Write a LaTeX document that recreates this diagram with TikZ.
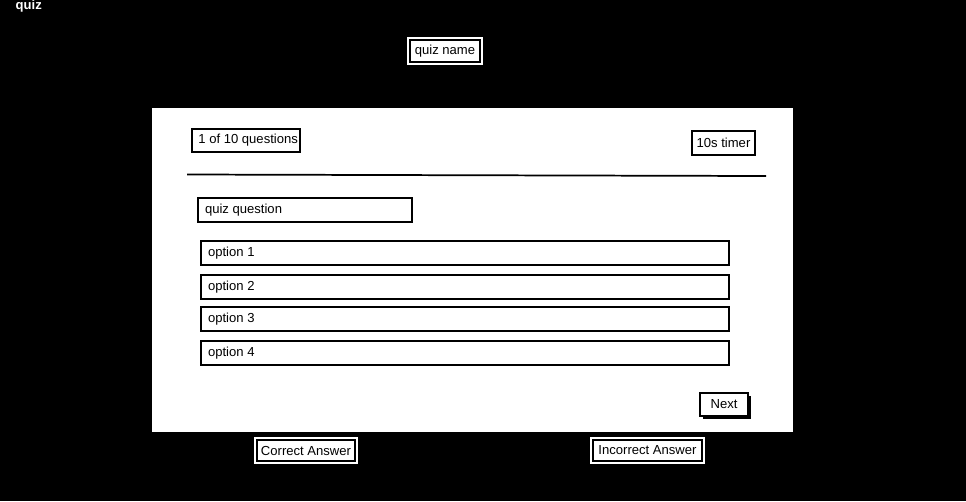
\documentclass[tikz,border=0pt]{standalone}
\usepackage{fontspec}
\setmainfont{Liberation Sans}
\begin{document}
\begin{tikzpicture}[x=0.75pt,y=-0.75pt,
  box/.style={draw=black,fill=white,line width=1.5pt,inner sep=0pt},
  lbl/.style={font=\fontsize{9.8}{11}\selectfont,anchor=west},
  clbl/.style={font=\fontsize{9.8}{11}\selectfont},
  outbox/.style={draw=white,fill=white,line width=0.8pt},
]
\useasboundingbox (0,0) rectangle (966,501);
\fill[black] (0,0) rectangle (966,501);
\node[text=white,font=\bfseries\fontsize{9.8}{11}\selectfont,anchor=west] (title) at (11,6) {quiz};
% quiz name
\draw[outbox] (408,38) rectangle (482,64);
\draw[black,line width=0.8pt] (410,40) rectangle (480,62);
\node[clbl] (qname) at (445,51) {quiz name};
% panel
\fill[white] (152,108) rectangle (793,432);
\node[box,minimum width=108*0.75pt,minimum height=23*0.75pt] (count) at (246,140.5) {};
\node[lbl] at (count.west) [xshift=2pt] {1 of 10 questions};
\node[box,minimum width=63*0.75pt,minimum height=24*0.75pt] (timer) at (723.5,143) {};
\node[clbl] at (timer) {10s timer};
\coordinate (la) at (187,174.5);
\coordinate (lb) at (766,176);
\draw[line width=1.3pt] (la) -- (lb);
\node[box,minimum width=214*0.75pt,minimum height=24*0.75pt] (quest) at (305,210) {};
\node[lbl] at (quest.west) [xshift=2.5pt] {quiz question};
\foreach \i/\y in {1/253,2/287,3/319,4/353}{
  \node[box,minimum width=528*0.75pt,minimum height=24*0.75pt] (opt\i) at (465,\y) {};
  \node[lbl] at (opt\i.west) [xshift=2.5pt] {option \i};
}
\fill[black] (703,396) rectangle (751,419);
\node[box,minimum width=48*0.75pt,minimum height=23*0.75pt] (next) at (724,404.5) {};
\node[clbl] at (next) {Next};
% answers
\draw[outbox] (255,438) rectangle (357,463);
\draw[black,line width=0.8pt] (257,440) rectangle (355,461);
\node[clbl] (correct) at (306,450.5) {Correct Answer};
\draw[outbox] (591,438) rectangle (704,463);
\draw[black,line width=0.8pt] (593,440) rectangle (702,461);
\node[clbl] (incorrect) at (647.5,450.5) {Incorrect Answer};
\end{tikzpicture}
\end{document}
